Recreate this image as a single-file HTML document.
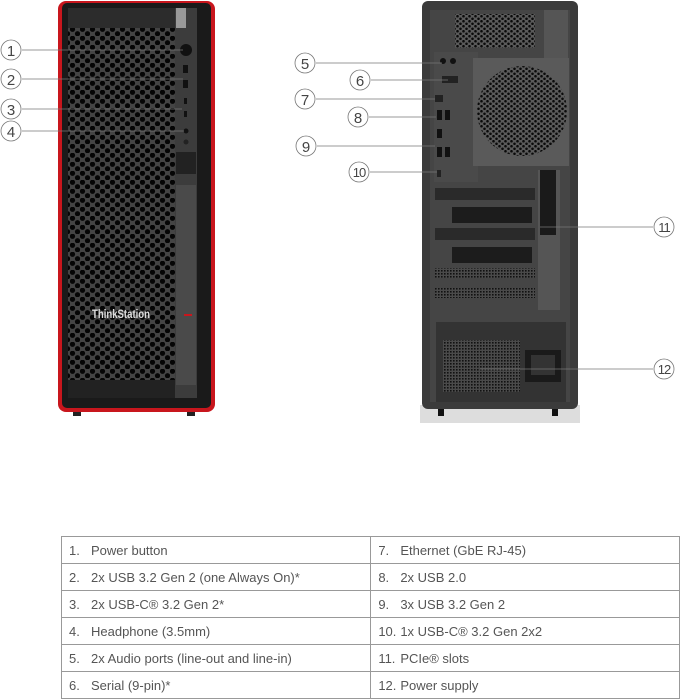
<!DOCTYPE html>
<html><head><meta charset="utf-8"><style>
html,body{margin:0;padding:0;background:#fff;width:681px;height:700px;overflow:hidden;position:relative}
svg{position:absolute;left:0;top:0}
table{position:absolute;left:61px;top:536px;width:619px;border-collapse:collapse;font-family:"Liberation Sans",sans-serif;font-size:13px;color:#555}
td{border:1px solid #999;height:26px;padding:0 0 0 7px;width:302px;white-space:nowrap}
td span{display:inline-block;width:22px}
</style></head><body>
<svg width="681" height="700" viewBox="0 0 681 700">
<defs>
<pattern id="hex" width="10" height="9" patternUnits="userSpaceOnUse">
<rect width="10" height="9" fill="#444"/>
<circle cx="2.5" cy="2.25" r="2.6" fill="#050505"/><circle cx="7.5" cy="6.75" r="2.6" fill="#050505"/>
</pattern>
<pattern id="fan" width="6" height="5" patternUnits="userSpaceOnUse">
<rect width="6" height="5" fill="#5a5a5a"/>
<circle cx="1.5" cy="1.25" r="1.3" fill="#0a0a0a"/><circle cx="4.5" cy="3.75" r="1.3" fill="#0a0a0a"/>
</pattern>
<pattern id="mesh" width="3" height="3" patternUnits="userSpaceOnUse">
<rect width="3" height="3" fill="#4a4a4a"/><rect width="1.6" height="1.6" fill="#111"/>
</pattern>
</defs>
<!-- FRONT -->
<rect x="73" y="408" width="8" height="8" fill="#222"/><rect x="187" y="408" width="8" height="8" fill="#222"/>
<rect x="58" y="1" width="157" height="411" rx="8" fill="#c8161d"/>
<rect x="62" y="3" width="149" height="405" rx="5" fill="#1a1a1a"/>
<rect x="68" y="8" width="107" height="390" fill="url(#hex)"/>
<rect x="68" y="8" width="107" height="20" fill="#2c2c2c"/>
<rect x="175" y="8" width="22" height="390" fill="#3c3c3c"/>
<rect x="176" y="8" width="10" height="20" fill="#999"/>
<rect x="176" y="152" width="20" height="22" fill="#222"/>
<rect x="176" y="185" width="20" height="200" fill="#4a4a4a"/>
<circle cx="186" cy="50" r="6" fill="#111"/>
<rect x="183" y="65" width="5" height="8" fill="#111"/><rect x="183" y="80" width="5" height="8" fill="#111"/>
<rect x="184" y="98" width="3" height="6" fill="#111"/><rect x="184" y="111" width="3" height="6" fill="#111"/>
<circle cx="186" cy="131" r="2.5" fill="#111"/><circle cx="186" cy="142" r="2.5" fill="#222"/>
<rect x="184" y="314" width="8" height="2" fill="#c8161d"/>
<rect x="68" y="380" width="107" height="18" fill="#222"/>
<text x="92" y="318" font-family="Liberation Sans,sans-serif" font-size="12" font-weight="bold" fill="#ddd" textLength="58" lengthAdjust="spacingAndGlyphs">ThinkStation</text>
<g stroke="#777" stroke-width="0.8" fill="#fff">
<line x1="22" y1="50" x2="183" y2="50"/><line x1="22" y1="79" x2="183" y2="79"/>
<line x1="22" y1="109" x2="182" y2="109"/><line x1="22" y1="131" x2="184" y2="131"/>
<circle cx="11" cy="50" r="10"/><circle cx="11" cy="79" r="10"/><circle cx="11" cy="109" r="10"/><circle cx="11" cy="131" r="10"/>
</g>
<g font-family="Liberation Sans,sans-serif" font-size="15" fill="#444" text-anchor="middle">
<text x="11" y="56">1</text><text x="11" y="85">2</text><text x="11" y="115">3</text><text x="11" y="137">4</text>
</g>
<!-- BACK -->
<rect x="420" y="405" width="160" height="18" fill="#ddd"/>
<rect x="438" y="408" width="6" height="8" fill="#111"/><rect x="552" y="408" width="6" height="8" fill="#111"/>
<rect x="422" y="1" width="156" height="408" rx="6" fill="#3b3b3b"/>
<rect x="430" y="10" width="140" height="392" fill="#454545"/>
<rect x="455" y="14" width="80" height="34" fill="url(#fan)"/>
<rect x="544" y="10" width="24" height="50" fill="#555"/>
<rect x="434" y="52" width="44" height="130" fill="#4a4a4a"/>
<rect x="473" y="58" width="96" height="108" fill="#5a5a5a"/>
<circle cx="522" cy="111" r="45" fill="url(#fan)"/>
<circle cx="443" cy="61" r="3" fill="#111"/><circle cx="453" cy="61" r="3" fill="#111"/>
<rect x="442" y="76" width="16" height="7" fill="#222"/>
<rect x="435" y="95" width="8" height="7" fill="#222"/>
<rect x="437" y="110" width="5" height="10" fill="#111"/><rect x="445" y="110" width="5" height="10" fill="#111"/>
<rect x="437" y="129" width="5" height="9" fill="#111"/>
<rect x="437" y="147" width="5" height="10" fill="#111"/><rect x="445" y="147" width="5" height="10" fill="#111"/>
<rect x="437" y="170" width="4" height="7" fill="#222"/>
<rect x="435" y="188" width="100" height="12" fill="#2a2a2a"/>
<rect x="452" y="207" width="80" height="16" fill="#1c1c1c"/>
<rect x="435" y="228" width="100" height="12" fill="#2a2a2a"/>
<rect x="452" y="247" width="80" height="16" fill="#1c1c1c"/>
<rect x="435" y="268" width="100" height="10" fill="url(#mesh)"/>
<rect x="435" y="288" width="100" height="10" fill="url(#mesh)"/>
<rect x="538" y="170" width="22" height="140" fill="#555"/>
<rect x="540" y="170" width="16" height="65" fill="#1a1a1a"/>
<rect x="436" y="322" width="130" height="80" fill="#333"/>
<rect x="443" y="340" width="77" height="52" fill="url(#mesh)"/>
<rect x="525" y="350" width="36" height="32" fill="#1a1a1a"/>
<rect x="531" y="355" width="24" height="20" fill="#333"/>
<g stroke="#777" stroke-width="0.8" fill="#fff">
<line x1="316" y1="63" x2="442" y2="63"/><line x1="371" y1="80" x2="448" y2="80"/>
<line x1="316" y1="99" x2="435" y2="99"/><line x1="369" y1="117" x2="436" y2="117"/>
<line x1="317" y1="146" x2="435" y2="146"/><line x1="370" y1="172" x2="437" y2="172"/>
<line x1="540" y1="227" x2="653" y2="227"/><line x1="480" y1="369" x2="653" y2="369"/>
<circle cx="305" cy="63" r="10"/><circle cx="360" cy="80" r="10"/><circle cx="305" cy="99" r="10"/><circle cx="358" cy="117" r="10"/>
<circle cx="306" cy="146" r="10"/><circle cx="359" cy="172" r="10"/><circle cx="664" cy="227" r="10"/><circle cx="664" cy="369" r="10"/>
</g>
<g font-family="Liberation Sans,sans-serif" font-size="15" fill="#444" text-anchor="middle">
<text x="305" y="69">5</text><text x="360" y="86">6</text><text x="305" y="105">7</text><text x="358" y="123">8</text>
<text x="306" y="152">9</text><text x="359" y="177" font-size="13" letter-spacing="-1">10</text><text x="664" y="232" font-size="13" letter-spacing="-1">11</text><text x="664" y="374" font-size="13" letter-spacing="-1">12</text>
</g>
</svg>
<table>
<tr><td><span>1.</span>Power button</td><td><span>7.</span>Ethernet (GbE RJ-45)</td></tr>
<tr><td><span>2.</span>2x USB 3.2 Gen 2 (one Always On)*</td><td><span>8.</span>2x USB 2.0</td></tr>
<tr><td><span>3.</span>2x USB-C® 3.2 Gen 2*</td><td><span>9.</span>3x USB 3.2 Gen 2</td></tr>
<tr><td><span>4.</span>Headphone (3.5mm)</td><td><span>10.</span>1x USB-C® 3.2 Gen 2x2</td></tr>
<tr><td><span>5.</span>2x Audio ports (line-out and line-in)</td><td><span>11.</span>PCIe® slots</td></tr>
<tr><td><span>6.</span>Serial (9-pin)*</td><td><span>12.</span>Power supply</td></tr>
</table>
</body></html>
